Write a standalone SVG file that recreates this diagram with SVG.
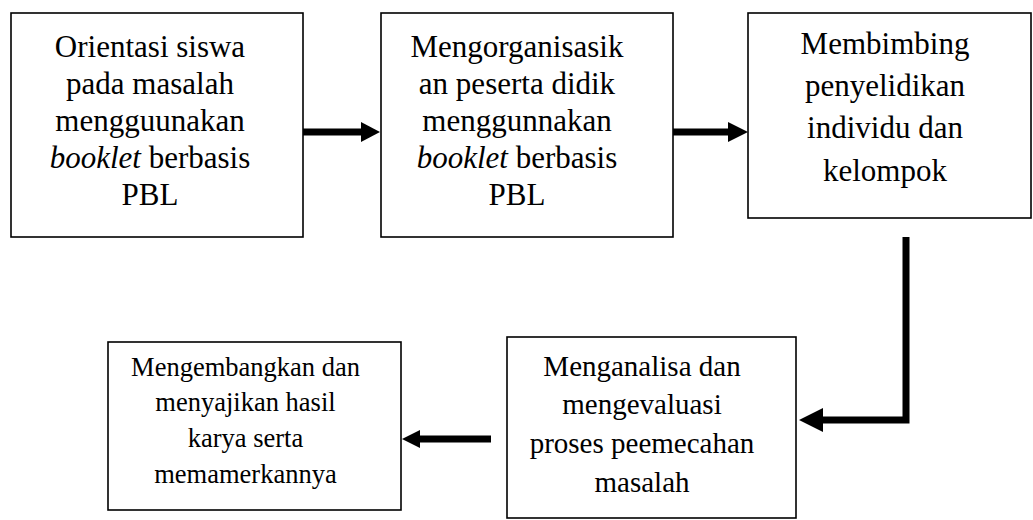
<svg xmlns="http://www.w3.org/2000/svg" width="1033" height="520" viewBox="0 0 1033 520">
<style>
.box{fill:#fff;stroke:#000;stroke-width:1.6}
.t{font-family:"Liberation Serif","Times New Roman",serif;fill:#000;text-anchor:middle}
.f31{font-size:31px}
.f29{font-size:29px}
.f26{font-size:26.5px}
.ln{fill:none;stroke:#000;stroke-width:7}
.hd{fill:#000;stroke:none}
i,.it{font-style:italic}
</style>
<rect width="1033" height="520" fill="#fff"/>
<g id="connectors">
<path class="ln" d="M303,132 H363"/>
<polygon class="hd" points="361,122 380,132 361,142"/>
<path class="ln" d="M673,132 H730"/>
<polygon class="hd" points="728,122 748,132 728,142"/>
<path class="ln" d="M906,237 V420 H820"/>
<polygon class="hd" points="823,408 799,420 823,432"/>
<path class="ln" d="M491,439 H418"/>
<polygon class="hd" points="420,430 402,439 420,448"/>
</g>
<g id="node1">
<rect class="box" x="11" y="13" width="292" height="224"/>
<text class="t f31" x="150" y="57">Orientasi siswa</text>
<text class="t f31" x="150" y="94">pada masalah</text>
<text class="t f31" x="150" y="131">mengguunakan</text>
<text class="t f31" x="150" y="168"><tspan class="it">booklet</tspan> berbasis</text>
<text class="t f31" x="150" y="205">PBL</text>
</g>
<g id="node2">
<rect class="box" x="381" y="13" width="292" height="224"/>
<text class="t f31" x="517" y="57">Mengorganisasik</text>
<text class="t f31" x="517" y="94">an peserta didik</text>
<text class="t f31" x="517" y="131">menggunnakan</text>
<text class="t f31" x="517" y="168"><tspan class="it">booklet</tspan> berbasis</text>
<text class="t f31" x="517" y="205">PBL</text>
</g>
<g id="node3">
<rect class="box" x="748" y="13" width="283" height="205"/>
<text class="t f31" x="885" y="54">Membimbing</text>
<text class="t f31" x="885" y="96">penyelidikan</text>
<text class="t f31" x="885" y="138">individu dan</text>
<text class="t f31" x="885" y="181">kelompok</text>
</g>
<g id="node4">
<rect class="box" x="507" y="337" width="289" height="181"/>
<text class="t f29" x="642" y="376">Menganalisa dan</text>
<text class="t f29" x="642" y="414">mengevaluasi</text>
<text class="t f29" x="642" y="453">proses peemecahan</text>
<text class="t f29" x="642" y="492">masalah</text>
</g>
<g id="node5">
<rect class="box" x="108" y="342" width="293" height="168"/>
<text class="t f26" x="245.5" y="376">Mengembangkan dan</text>
<text class="t f26" x="245.5" y="411">menyajikan hasil</text>
<text class="t f26" x="245.5" y="447">karya serta</text>
<text class="t f26" x="245.5" y="483">memamerkannya</text>
</g>
</svg>
